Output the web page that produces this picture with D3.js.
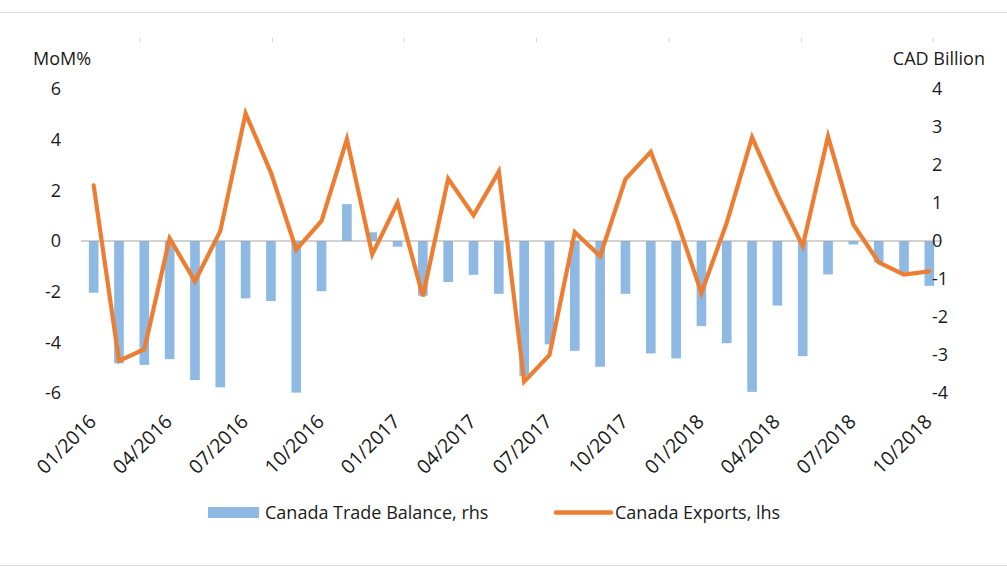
<!DOCTYPE html>
<html>
<head>
<meta charset="utf-8">
<script src="https://cdn.jsdelivr.net/npm/d3@7"></script>
<style>
  html, body { margin: 0; padding: 0; background: #fff; }
  svg text { font-family: "Open Sans", "Noto Sans", sans-serif; fill: #1a1a1a; }
</style>
</head>
<body>
<svg id="chart" width="1007" height="580"></svg>
<script>
const months = ["01/2016","02/2016","03/2016","04/2016","05/2016","06/2016","07/2016","08/2016","09/2016","10/2016","11/2016","12/2016",
  "01/2017","02/2017","03/2017","04/2017","05/2017","06/2017","07/2017","08/2017","09/2017","10/2017","11/2017","12/2017",
  "01/2018","02/2018","03/2018","04/2018","05/2018","06/2018","07/2018","08/2018","09/2018","10/2018"];
const tradeBalance = [-1.36,-3.22,-3.26,-3.11,-3.66,-3.85,-1.51,-1.58,-3.99,-1.32,0.97,0.23,
  -0.15,-1.44,-1.08,-0.89,-1.39,-3.55,-2.72,-2.89,-3.31,-1.39,-2.96,-3.09,
  -2.24,-2.69,-3.97,-1.70,-3.03,-0.88,-0.09,-0.57,-0.83,-1.18];
const exportsMoM = [2.2,-4.73,-4.27,0.1,-1.59,0.39,5.04,2.7,-0.34,0.79,4.02,-0.53,
  1.51,-2.18,2.46,1.01,2.74,-5.55,-4.5,0.35,-0.6,2.44,3.52,0.9,
  -2.05,0.72,4.09,1.84,-0.2,4.13,0.65,-0.84,-1.33,-1.2];
const leftTicks = [-6,-4,-2,0,2,4,6];
const rightTicks = [-4,-3,-2,-1,0,1,2,3,4];
const xTickLabels = ["01/2016","04/2016","07/2016","10/2016","01/2017","04/2017","07/2017","10/2017","01/2018","04/2018","07/2018","10/2018"];
const topMarks = [139,272,403,536,669,801,933];

const svg = d3.select("#chart");
const W = 1007, H = 580;
const blue = "#8db9e3", orange = "#ed7d31";
const fmt = d => String(d);

// frame lines
svg.append("line").attr("x1",0).attr("x2",W).attr("y1",12.5).attr("y2",12.5).attr("stroke","#dcdcdc");
svg.append("line").attr("x1",0).attr("x2",W).attr("y1",565.5).attr("y2",565.5).attr("stroke","#dcdcdc");
svg.selectAll(".tm").data(topMarks).enter().append("line")
  .attr("x1",d=>d+0.5).attr("x2",d=>d+0.5).attr("y1",38).attr("y2",42).attr("stroke","#d8d8d8");

const x = d3.scaleBand().domain(months).range([81, 942]).paddingInner(0.62).paddingOuter(0.31);
const yL = d3.scaleLinear().domain([-6, 6]).range([393, 89]);
const yR = d3.scaleLinear().domain([-4, 4]).range([393, 89]);

// bars
svg.append("g").selectAll("rect").data(months).enter().append("rect")
  .attr("x", d => x(d))
  .attr("width", x.bandwidth())
  .attr("y", (d,i) => Math.min(yR(0), yR(tradeBalance[i])))
  .attr("height", (d,i) => Math.abs(yR(tradeBalance[i]) - yR(0)))
  .attr("fill", blue);

// zero line
svg.append("line").attr("x1",81).attr("x2",942).attr("y1",yL(0)).attr("y2",yL(0))
  .attr("stroke","#a6a6a6").attr("stroke-width",1.2);

// line
const line = d3.line().x((d,i) => x(months[i]) + x.bandwidth()/2).y(d => yL(d));
svg.append("path").datum(exportsMoM).attr("d", line)
  .attr("fill","none").attr("stroke",orange).attr("stroke-width",4.2)
  .attr("stroke-linejoin","miter").attr("stroke-linecap","round");

// left axis
const axL = svg.append("g").attr("transform","translate(61,0)")
  .call(d3.axisLeft(yL).tickValues(leftTicks).tickSize(0).tickPadding(0).tickFormat(fmt));
axL.select(".domain").remove();
axL.selectAll("text").attr("font-size",18).style("font-family","'Open Sans', sans-serif").attr("fill","#1a1a1a");

// right axis
const axR = svg.append("g").attr("transform","translate(932,0)")
  .call(d3.axisRight(yR).tickValues(rightTicks).tickSize(0).tickPadding(0).tickFormat(fmt));
axR.select(".domain").remove();
axR.selectAll("text").attr("font-size",18).style("font-family","'Open Sans', sans-serif").attr("fill","#1a1a1a");

// axis titles
svg.append("text").attr("x",33).attr("y",65).attr("font-size",18).text("MoM%");
svg.append("text").attr("x",985).attr("y",65).attr("font-size",18).attr("text-anchor","end").text("CAD Billion");

// x axis labels
const axX = svg.append("g").attr("transform","translate(0,405)")
  .call(d3.axisBottom(x).tickValues(xTickLabels).tickSize(0).tickPadding(0));
axX.select(".domain").remove();
axX.selectAll("text")
  .attr("font-size",19.5).style("font-family","'Open Sans', sans-serif").attr("fill","#1a1a1a")
  .attr("text-anchor","end")
  .attr("dy","0.35em")
  .attr("transform","translate(-1,13) rotate(-45)");

// legend
const lg = svg.append("g");
lg.append("rect").attr("x",208).attr("y",507).attr("width",51).attr("height",11).attr("fill",blue);
lg.append("text").attr("x",265).attr("y",519).attr("font-size",18).text("Canada Trade Balance, rhs");
lg.append("line").attr("x1",556).attr("x2",611).attr("y1",512.5).attr("y2",512.5)
  .attr("stroke",orange).attr("stroke-width",4.5).attr("stroke-linecap","round");
lg.append("text").attr("x",615).attr("y",519).attr("font-size",18).text("Canada Exports, lhs");
</script>
</body>
</html>
